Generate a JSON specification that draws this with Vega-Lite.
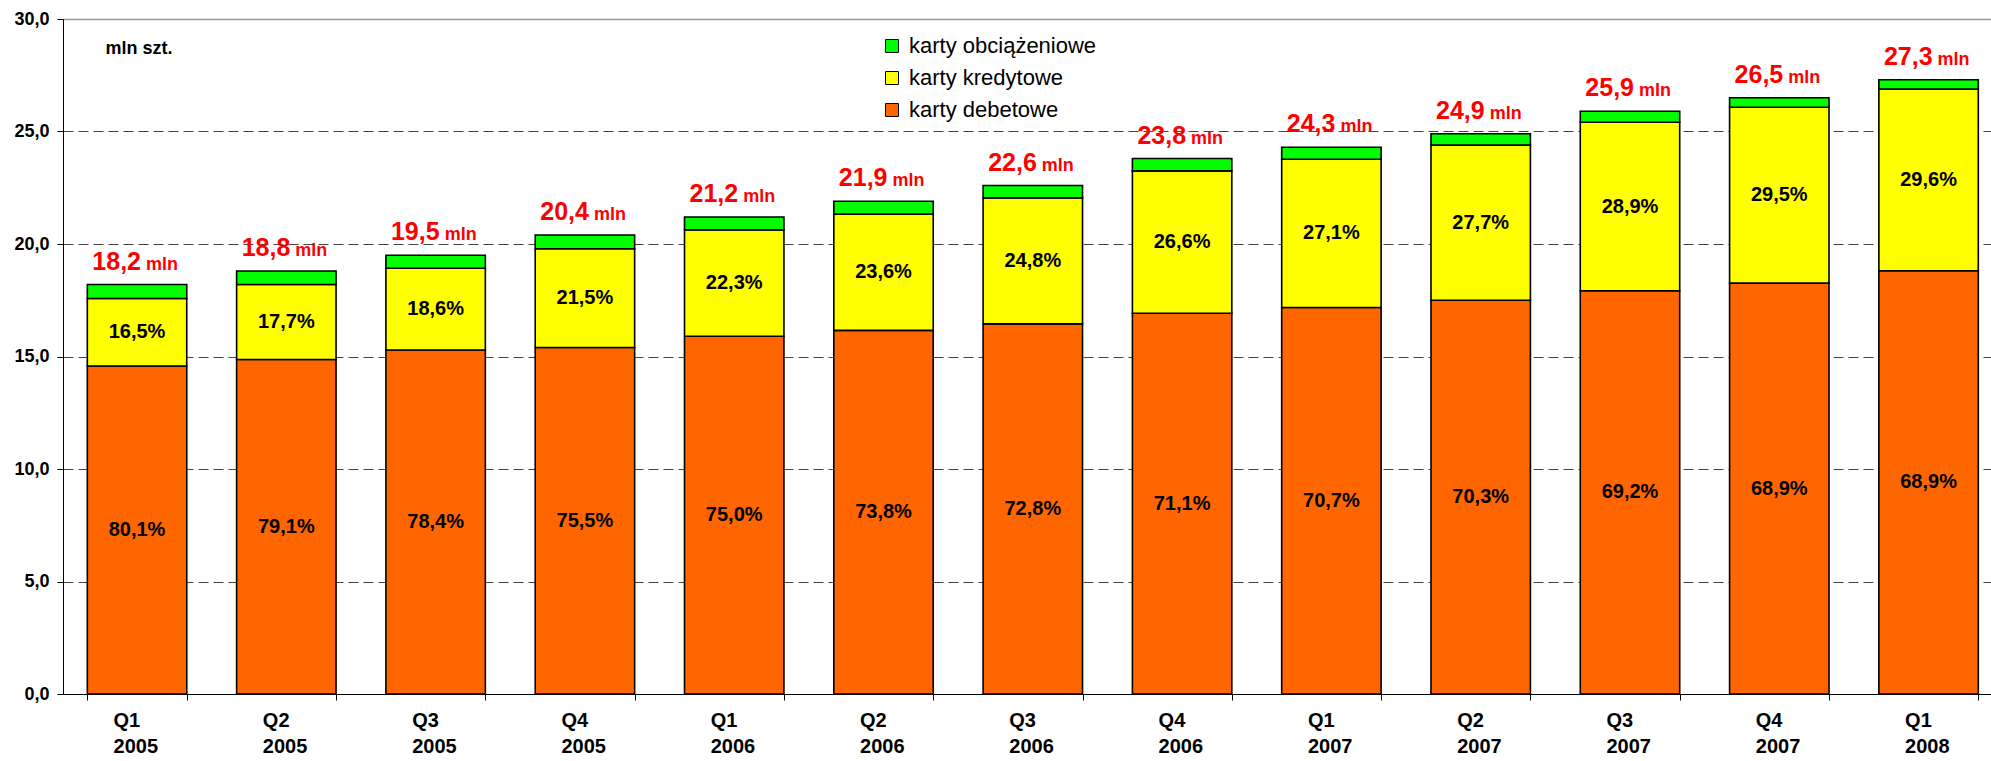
{
  "$schema": "https://vega.github.io/schema/vega-lite/v6.json",
  "width": 1928,
  "height": 675,
  "autosize": {"type": "none"},
  "padding": {"left": 63, "top": 19, "right": 0, "bottom": 67},
  "background": "white",
  "datasets": {
    "bars": [
      {"q": "Q1 2005", "series": "karty debetowe", "ord": 1, "value": 14.58, "pct": "80,1%"},
      {"q": "Q1 2005", "series": "karty kredytowe", "ord": 2, "value": 3.00, "pct": "16,5%"},
      {"q": "Q1 2005", "series": "karty obciążeniowe", "ord": 3, "value": 0.62, "pct": ""},
      {"q": "Q2 2005", "series": "karty debetowe", "ord": 1, "value": 14.87, "pct": "79,1%"},
      {"q": "Q2 2005", "series": "karty kredytowe", "ord": 2, "value": 3.33, "pct": "17,7%"},
      {"q": "Q2 2005", "series": "karty obciążeniowe", "ord": 3, "value": 0.60, "pct": ""},
      {"q": "Q3 2005", "series": "karty debetowe", "ord": 1, "value": 15.29, "pct": "78,4%"},
      {"q": "Q3 2005", "series": "karty kredytowe", "ord": 2, "value": 3.63, "pct": "18,6%"},
      {"q": "Q3 2005", "series": "karty obciążeniowe", "ord": 3, "value": 0.58, "pct": ""},
      {"q": "Q4 2005", "series": "karty debetowe", "ord": 1, "value": 15.40, "pct": "75,5%"},
      {"q": "Q4 2005", "series": "karty kredytowe", "ord": 2, "value": 4.39, "pct": "21,5%"},
      {"q": "Q4 2005", "series": "karty obciążeniowe", "ord": 3, "value": 0.61, "pct": ""},
      {"q": "Q1 2006", "series": "karty debetowe", "ord": 1, "value": 15.90, "pct": "75,0%"},
      {"q": "Q1 2006", "series": "karty kredytowe", "ord": 2, "value": 4.73, "pct": "22,3%"},
      {"q": "Q1 2006", "series": "karty obciążeniowe", "ord": 3, "value": 0.57, "pct": ""},
      {"q": "Q2 2006", "series": "karty debetowe", "ord": 1, "value": 16.16, "pct": "73,8%"},
      {"q": "Q2 2006", "series": "karty kredytowe", "ord": 2, "value": 5.17, "pct": "23,6%"},
      {"q": "Q2 2006", "series": "karty obciążeniowe", "ord": 3, "value": 0.57, "pct": ""},
      {"q": "Q3 2006", "series": "karty debetowe", "ord": 1, "value": 16.45, "pct": "72,8%"},
      {"q": "Q3 2006", "series": "karty kredytowe", "ord": 2, "value": 5.60, "pct": "24,8%"},
      {"q": "Q3 2006", "series": "karty obciążeniowe", "ord": 3, "value": 0.55, "pct": ""},
      {"q": "Q4 2006", "series": "karty debetowe", "ord": 1, "value": 16.92, "pct": "71,1%"},
      {"q": "Q4 2006", "series": "karty kredytowe", "ord": 2, "value": 6.33, "pct": "26,6%"},
      {"q": "Q4 2006", "series": "karty obciążeniowe", "ord": 3, "value": 0.55, "pct": ""},
      {"q": "Q1 2007", "series": "karty debetowe", "ord": 1, "value": 17.18, "pct": "70,7%"},
      {"q": "Q1 2007", "series": "karty kredytowe", "ord": 2, "value": 6.59, "pct": "27,1%"},
      {"q": "Q1 2007", "series": "karty obciążeniowe", "ord": 3, "value": 0.53, "pct": ""},
      {"q": "Q2 2007", "series": "karty debetowe", "ord": 1, "value": 17.50, "pct": "70,3%"},
      {"q": "Q2 2007", "series": "karty kredytowe", "ord": 2, "value": 6.90, "pct": "27,7%"},
      {"q": "Q2 2007", "series": "karty obciążeniowe", "ord": 3, "value": 0.50, "pct": ""},
      {"q": "Q3 2007", "series": "karty debetowe", "ord": 1, "value": 17.92, "pct": "69,2%"},
      {"q": "Q3 2007", "series": "karty kredytowe", "ord": 2, "value": 7.49, "pct": "28,9%"},
      {"q": "Q3 2007", "series": "karty obciążeniowe", "ord": 3, "value": 0.49, "pct": ""},
      {"q": "Q4 2007", "series": "karty debetowe", "ord": 1, "value": 18.26, "pct": "68,9%"},
      {"q": "Q4 2007", "series": "karty kredytowe", "ord": 2, "value": 7.82, "pct": "29,5%"},
      {"q": "Q4 2007", "series": "karty obciążeniowe", "ord": 3, "value": 0.42, "pct": ""},
      {"q": "Q1 2008", "series": "karty debetowe", "ord": 1, "value": 18.81, "pct": "68,9%"},
      {"q": "Q1 2008", "series": "karty kredytowe", "ord": 2, "value": 8.08, "pct": "29,6%"},
      {"q": "Q1 2008", "series": "karty obciążeniowe", "ord": 3, "value": 0.41, "pct": ""}
    ],
    "totals": [
      {"q": "Q1 2005", "total": 18.2},
      {"q": "Q2 2005", "total": 18.8},
      {"q": "Q3 2005", "total": 19.5},
      {"q": "Q4 2005", "total": 20.4},
      {"q": "Q1 2006", "total": 21.2},
      {"q": "Q2 2006", "total": 21.9},
      {"q": "Q3 2006", "total": 22.6},
      {"q": "Q4 2006", "total": 23.8},
      {"q": "Q1 2007", "total": 24.3},
      {"q": "Q2 2007", "total": 24.9},
      {"q": "Q3 2007", "total": 25.9},
      {"q": "Q4 2007", "total": 26.5},
      {"q": "Q1 2008", "total": 27.3}
    ]
  },
  "encoding": {
    "x": {
      "field": "q", "type": "nominal", "sort": null,
      "scale": {"paddingInner": 0.334, "paddingOuter": 0.124, "align": 0.657, "round": false},
      "axis": {
        "title": null,
        "labelExpr": "split(datum.label, ' ')",
        "labelAngle": 0,
        "labelAlign": "left",
        "labelOffset": -24,
        "labelFont": "Liberation Sans",
        "labelFontSize": 20,
        "labelFontWeight": "bold",
        "labelColor": "black",
        "labelLineHeight": 26,
        "labelPadding": 10,
        "tickBand": "extent",
        "tickSize": 6,
        "tickColor": "black",
        "domainColor": "black",
        "domainWidth": 1
      }
    }
  },
  "layer": [
    {
      "data": {"name": "bars"},
      "mark": {"type": "bar", "stroke": "black", "strokeWidth": 1.6},
      "encoding": {
        "y": {
          "field": "value", "type": "quantitative", "stack": "zero",
          "scale": {"domain": [0, 30], "nice": false},
          "axis": {
            "values": [0, 5, 10, 15, 20, 25, 30],
            "format": ".1f",
            "labelFont": "Liberation Sans",
            "labelFontSize": 18,
            "labelFontWeight": "bold",
            "labelColor": "black",
            "labelPadding": 8,
            "tickSize": 6,
            "tickColor": "black",
            "domainColor": "black",
            "grid": true,
            "gridColor": {"condition": {"test": "datum.value === 30", "value": "#999999"}, "value": "#444444"},
            "gridDash": {"condition": {"test": "datum.value === 30", "value": []}, "value": [10, 5]},
            "gridWidth": {"condition": {"test": "datum.value === 30", "value": 1.5}, "value": 1},
            "title": "mln szt.",
            "titleAngle": 0,
            "titleAlign": "left",
            "titleBaseline": "middle",
            "titleX": 42,
            "titleY": 29,
            "titleFont": "Liberation Sans",
            "titleFontSize": 18,
            "titleFontWeight": "bold",
            "titleColor": "black"
          }
        },
        "color": {
          "field": "series", "type": "nominal",
          "scale": {
            "domain": ["karty obciążeniowe", "karty kredytowe", "karty debetowe"],
            "range": ["#00FF00", "#FFFF00", "#FF6600"]
          },
          "legend": {
            "title": null,
            "orient": "none",
            "legendX": 818,
            "legendY": 16,
            "symbolType": "square",
            "symbolSize": 169,
            "symbolStrokeColor": "black",
            "symbolStrokeWidth": 1,
            "symbolOpacity": 1,
            "labelFont": "Liberation Sans",
            "labelFontSize": 22,
            "labelLimit": 0,
            "labelColor": "black",
            "labelOffset": 6,
            "rowPadding": 10
          }
        },
        "order": {"field": "ord", "type": "quantitative"}
      }
    },
    {
      "data": {"name": "bars"},
      "transform": [
        {"stack": "value", "groupby": ["q"], "sort": [{"field": "ord", "order": "ascending"}], "as": ["y0", "y1"]},
        {"filter": "datum.pct !== ''"},
        {"calculate": "(datum.y0 + datum.y1) / 2", "as": "mid"}
      ],
      "mark": {"type": "text", "font": "Liberation Sans", "fontSize": 20, "fontWeight": "bold", "color": "black", "baseline": "middle", "align": "center"},
      "encoding": {
        "y": {"field": "mid", "type": "quantitative"},
        "text": {"field": "pct", "type": "nominal"}
      }
    },
    {
      "data": {"name": "totals"},
      "mark": {"type": "text", "font": "Liberation Sans", "fontSize": 25, "fontWeight": "bold", "color": "#FF0000", "baseline": "alphabetic", "align": "right", "dx": 4, "dy": -15},
      "encoding": {
        "y": {"field": "total", "type": "quantitative"},
        "text": {"field": "total", "type": "quantitative", "format": ".1f"}
      }
    },
    {
      "data": {"name": "totals"},
      "mark": {"type": "text", "font": "Liberation Sans", "fontSize": 18, "fontWeight": "bold", "color": "#FF0000", "baseline": "alphabetic", "align": "left", "dx": 9, "dy": -15, "text": "mln"},
      "encoding": {
        "y": {"field": "total", "type": "quantitative"}
      }
    }
  ],
  "config": {
    "view": {"stroke": null},
    "locale": {"number": {"decimal": ",", "thousands": " ", "grouping": [3], "currency": ["", " zł"]}}
  }
}
